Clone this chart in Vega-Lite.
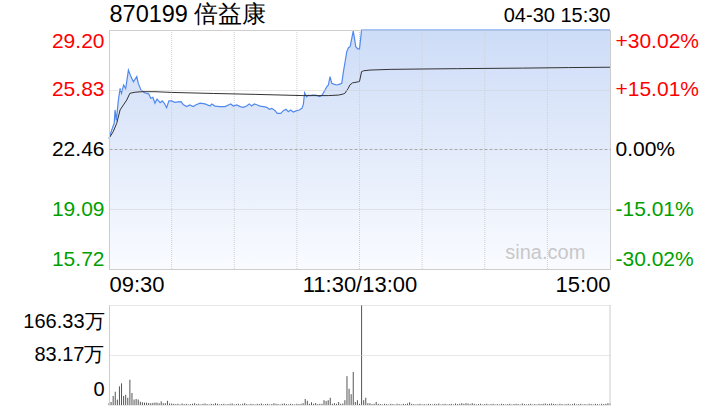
{
  "$schema": "https://vega.github.io/schema/vega-lite/v6.json",
  "width": 501,
  "height": 375,
  "autosize": {"type": "none"},
  "padding": {"left": 109, "top": 30, "right": 110, "bottom": 15},
  "background": "white",
  "config": {
    "view": {"stroke": null},
    "font": "Liberation Sans",
    "axis": {"labelFont": "Liberation Sans", "titleFont": "Liberation Sans"}
  },
  "resolve": {"scale": {"y": "independent"}, "axis": {"x": "independent", "y": "independent"}},
  "datasets": {
    "px": [
      {"m":0,"p":23.09},{"m":1.6,"p":23.66},{"m":2.5,"p":23.94},{"m":2.9,"p":24.69},{"m":3.5,"p":24.10},{"m":4.5,"p":25.25},{"m":5.3,"p":25.91},{"m":6,"p":25.63},{"m":7,"p":26.10},{"m":8,"p":25.90},{"m":9.3,"p":26.94},{"m":10.5,"p":26.57},{"m":11.7,"p":26.28},{"m":13.3,"p":26.57},{"m":14,"p":26.20},{"m":15.3,"p":25.82},{"m":17,"p":25.66},{"m":19,"p":25.60},{"m":20,"p":25.35},{"m":21,"p":25.40},{"m":22,"p":25.07},{"m":23,"p":25.30},{"m":24.5,"p":25.10},{"m":25.5,"p":25.20},{"m":26.5,"p":25.07},{"m":27.6,"p":24.82},{"m":28.7,"p":25.20},{"m":30,"p":25.20},{"m":31.5,"p":25.12},{"m":33,"p":25.15},{"m":34.5,"p":25.16},{"m":35.5,"p":25.00},{"m":37.2,"p":24.88},{"m":38.7,"p":24.97},{"m":40.3,"p":24.88},{"m":41.5,"p":24.97},{"m":43.6,"p":25.07},{"m":46,"p":25.03},{"m":48.4,"p":24.91},{"m":49.2,"p":25.03},{"m":50.8,"p":24.91},{"m":53.2,"p":24.88},{"m":55.6,"p":24.88},{"m":57.2,"p":24.97},{"m":58.3,"p":25.03},{"m":59.6,"p":24.91},{"m":61.2,"p":24.97},{"m":62.8,"p":24.88},{"m":64.3,"p":24.84},{"m":65.9,"p":24.91},{"m":67.2,"p":25.03},{"m":68.3,"p":24.91},{"m":69.6,"p":25.03},{"m":71.1,"p":24.97},{"m":72.4,"p":24.91},{"m":74,"p":24.88},{"m":75.6,"p":24.84},{"m":76.8,"p":24.73},{"m":78,"p":24.78},{"m":79.6,"p":24.65},{"m":80.6,"p":24.50},{"m":82.3,"p":24.50},{"m":83.5,"p":24.65},{"m":84.8,"p":24.73},{"m":85.9,"p":24.59},{"m":87,"p":24.69},{"m":88.3,"p":24.57},{"m":89.9,"p":24.65},{"m":91.2,"p":24.69},{"m":92.4,"p":24.78},{"m":93.1,"p":25.00},{"m":93.7,"p":25.66},{"m":94.7,"p":25.44},{"m":95.5,"p":25.53},{"m":96.3,"p":25.50},{"m":97.4,"p":25.53},{"m":99,"p":25.53},{"m":101,"p":25.44},{"m":102.1,"p":25.53},{"m":103.5,"p":25.82},{"m":104.3,"p":26.00},{"m":105.1,"p":26.10},{"m":105.9,"p":26.57},{"m":106.7,"p":26.19},{"m":108,"p":26.13},{"m":109.1,"p":26.10},{"m":110.2,"p":26.13},{"m":111.5,"p":26.19},{"m":112.3,"p":26.85},{"m":113.1,"p":27.41},{"m":113.9,"p":27.98},{"m":114.7,"p":28.20},{"m":115.5,"p":28.26},{"m":116.3,"p":28.73},{"m":117,"p":29.14},{"m":117.6,"p":28.73},{"m":118.2,"p":28.26},{"m":119.2,"p":28.13},{"m":120,"p":28.13},{"m":121,"p":29.20},{"m":240,"p":29.20}
    ],
    "avg": [
      {"m":0,"a":23.09},{"m":2,"a":23.46},{"m":3.7,"a":23.94},{"m":5.3,"a":24.69},{"m":6.9,"a":24.97},{"m":8.5,"a":25.25},{"m":10,"a":25.63},{"m":12.5,"a":25.69},{"m":15.7,"a":25.72},{"m":22,"a":25.72},{"m":30,"a":25.68},{"m":50,"a":25.62},{"m":70,"a":25.57},{"m":93,"a":25.50},{"m":105,"a":25.50},{"m":110,"a":25.53},{"m":112.2,"a":25.59},{"m":113,"a":25.63},{"m":114.6,"a":25.91},{"m":115.4,"a":26.10},{"m":116.7,"a":26.22},{"m":117.8,"a":26.24},{"m":119.4,"a":26.28},{"m":120,"a":26.30},{"m":121,"a":26.85},{"m":122,"a":26.90},{"m":125,"a":26.94},{"m":135,"a":26.98},{"m":150,"a":27.00},{"m":167,"a":27.02},{"m":198,"a":27.05},{"m":220,"a":27.08},{"m":240,"a":27.10}
    ],
    "vol": [
      {"m":0,"v":3},{"m":1,"v":5},{"m":2,"v":15},{"m":3,"v":22},{"m":4,"v":9},{"m":5,"v":31},{"m":6,"v":36},{"m":7,"v":15},{"m":8,"v":17},{"m":9,"v":12},{"m":10,"v":42},{"m":11,"v":20},{"m":12,"v":9},{"m":13,"v":10},{"m":14,"v":9},{"m":15,"v":5.5},{"m":16,"v":4.5},{"m":17,"v":3.9},{"m":18,"v":4},{"m":19,"v":3.3},{"m":20,"v":3},{"m":21,"v":3.5},{"m":22,"v":4},{"m":23,"v":4},{"m":24,"v":3},{"m":25,"v":6},{"m":26,"v":3},{"m":27,"v":3},{"m":28,"v":7},{"m":29,"v":2.5},{"m":30,"v":2.5},{"m":31,"v":2},
      {"m":32,"v":1.5},{"m":33,"v":2},{"m":34,"v":1},{"m":35,"v":2.5},{"m":36,"v":1.5},{"m":37,"v":2},{"m":38,"v":1},{"m":39,"v":1.5},{"m":40,"v":2},{"m":41,"v":3},{"m":42,"v":1.5},{"m":43,"v":2},{"m":44,"v":1},{"m":45,"v":2},{"m":46,"v":2.5},{"m":47,"v":1.5},{"m":48,"v":1},{"m":49,"v":2},{"m":50,"v":1.5},{"m":51,"v":3},{"m":52,"v":2},{"m":53,"v":1},{"m":54,"v":1.5},{"m":55,"v":2},{"m":56,"v":1},{"m":57,"v":1.5},{"m":58,"v":2},{"m":59,"v":2.5},{"m":60,"v":1},{"m":61,"v":1.5},{"m":62,"v":2},{"m":63,"v":1},{"m":64,"v":2},{"m":65,"v":3},{"m":66,"v":1.5},{"m":67,"v":1},{"m":68,"v":2},{"m":69,"v":1.5},{"m":70,"v":1},{"m":71,"v":2},{"m":72,"v":1.5},{"m":73,"v":2.5},{"m":74,"v":1},{"m":75,"v":1.5},{"m":76,"v":2},{"m":77,"v":1},{"m":78,"v":1.5},{"m":79,"v":3},{"m":80,"v":2},{"m":81,"v":1.5},{"m":82,"v":1},{"m":83,"v":2},{"m":84,"v":2.5},{"m":85,"v":1.5},{"m":86,"v":1},{"m":87,"v":2},{"m":88,"v":1.5},{"m":89,"v":1},{"m":90,"v":2},{"m":91,"v":1.5},{"m":92,"v":2},{"m":93,"v":3},{"m":94,"v":10},{"m":95,"v":7},{"m":96,"v":2},{"m":97,"v":4.5},{"m":98,"v":2},{"m":99,"v":3.3},{"m":100,"v":1.5},{"m":101,"v":2},{"m":102,"v":2},{"m":103,"v":8},{"m":104,"v":6.6},{"m":105,"v":8},{"m":106,"v":12},{"m":107,"v":2},{"m":108,"v":3},{"m":109,"v":2},{"m":110,"v":5},{"m":111,"v":2},{"m":112,"v":2.5},{"m":113,"v":8},{"m":114,"v":48},{"m":115,"v":27},{"m":116,"v":18},{"m":117,"v":55},{"m":118,"v":5},{"m":119,"v":8},{"m":120,"v":2},{"m":121,"v":166.33},{"m":122,"v":8},{"m":123,"v":12},{"m":124,"v":3},{"m":125,"v":3},{"m":126,"v":1.5},{"m":127,"v":2},{"m":128,"v":5},{"m":129,"v":2},
      {"m":130,"v":1.5},{"m":131,"v":1},{"m":132,"v":2},{"m":133,"v":1.5},{"m":134,"v":1},{"m":135,"v":2},{"m":136,"v":1.5},{"m":137,"v":1},{"m":138,"v":2},{"m":139,"v":1.5},{"m":140,"v":1},{"m":141,"v":2},{"m":142,"v":1.5},{"m":143,"v":2.5},{"m":144,"v":4.5},{"m":145,"v":2},{"m":146,"v":1.5},{"m":147,"v":1},{"m":148,"v":1.5},{"m":149,"v":2},{"m":150,"v":1},{"m":151,"v":1.5},{"m":152,"v":1},{"m":153,"v":2},{"m":154,"v":1.5},{"m":155,"v":1},{"m":156,"v":2},{"m":157,"v":1.5},{"m":158,"v":2.5},{"m":159,"v":1},{"m":160,"v":1.5},{"m":161,"v":2},{"m":162,"v":1},{"m":163,"v":1.5},{"m":164,"v":2},{"m":165,"v":1},{"m":166,"v":2.5},{"m":167,"v":1.5},{"m":168,"v":2},{"m":169,"v":3},{"m":170,"v":2},{"m":171,"v":3},{"m":172,"v":2.5},{"m":173,"v":1.5},{"m":174,"v":3},{"m":175,"v":2},{"m":176,"v":1},{"m":177,"v":1.5},{"m":178,"v":2},{"m":179,"v":1},{"m":180,"v":1.5},{"m":181,"v":2},{"m":182,"v":1},{"m":183,"v":1.5},{"m":184,"v":2},{"m":185,"v":1},{"m":186,"v":1.5},{"m":187,"v":1},{"m":188,"v":2},{"m":189,"v":1.5},{"m":190,"v":1},{"m":191,"v":1.5},{"m":192,"v":2},{"m":193,"v":1},{"m":194,"v":1.5},{"m":195,"v":2},{"m":196,"v":1.5},{"m":197,"v":1},{"m":198,"v":2.5},{"m":199,"v":1.5},{"m":200,"v":1},{"m":201,"v":1.5},{"m":202,"v":2},{"m":203,"v":1},{"m":204,"v":1.5},{"m":205,"v":1},{"m":206,"v":2},{"m":207,"v":1.5},{"m":208,"v":2},{"m":209,"v":2.5},{"m":210,"v":1.5},{"m":211,"v":2},{"m":212,"v":2.5},{"m":213,"v":2},{"m":214,"v":1.5},{"m":215,"v":1},{"m":216,"v":2},{"m":217,"v":1.5},{"m":218,"v":1},{"m":219,"v":1.5},{"m":220,"v":2},{"m":221,"v":1},{"m":222,"v":1.5},{"m":223,"v":2.5},{"m":224,"v":1},{"m":225,"v":1.5},{"m":226,"v":2},{"m":227,"v":1},{"m":228,"v":1.5},{"m":229,"v":1},{"m":230,"v":2},{"m":231,"v":1.5},{"m":232,"v":1},{"m":233,"v":2},{"m":234,"v":1.5},{"m":235,"v":1},{"m":236,"v":2},{"m":237,"v":1.5},{"m":238,"v":2},{"m":239,"v":3},{"m":240,"v":2.5}
    ],
    "grid": [{"g":30},{"g":60},{"g":90},{"g":120},{"g":150},{"g":180},{"g":210}],
    "wm": [{"m":209,"p":16.62,"t":"sina.com"}],
    "edge": [{"m":240,"lo":0,"hi":166.33}]
  },
  "layer": [
    {
      "data": {"name": "px"},
      "mark": {"type": "area", "line": false, "color": {"x1": 0, "y1": 0, "x2": 0, "y2": 1, "gradient": "linear", "stops": [{"offset": 0, "color": "#cddcf7"}, {"offset": 1, "color": "#f9fbff"}]}},
      "encoding": {
        "x": {"field": "m", "type": "quantitative", "scale": {"domain": [0, 240], "nice": false, "zero": false},
          "axis": {"orient": "bottom", "offset": -136, "values": [0, 120, 240], "labelExpr": "datum.value == 0 ? '09:30' : datum.value == 120 ? '11:30/13:00' : '15:00'", "labelFlush": true, "ticks": false, "grid": false, "domain": true, "domainColor": "#cccccc", "labelFontSize": 22, "labelPadding": 5, "labelColor": "#000000", "title": null}},
        "y": {"field": "p", "type": "quantitative", "scale": {"domain": [15.72, 29.2], "range": [239, 0], "nice": false, "zero": false},
          "axis": {"orient": "left", "values": [15.72, 19.09, 22.46, 25.83, 29.2], "format": ".2f", "labelFlush": true, "ticks": false, "grid": true,
            "gridColor": {"condition": {"test": "datum.value > 22.4 && datum.value < 22.5", "value": "#a8a8a8"}, "value": "#d0d0d0"},
            "gridDash": {"condition": {"test": "datum.value > 22.4 && datum.value < 22.5", "value": [3, 2]}, "value": [1, 1]},
            "domain": true, "domainColor": "#cccccc", "labelFontSize": 21, "labelPadding": 5, "zindex": 1, "title": null,
            "labelColor": {"condition": [{"test": "datum.value > 22.5", "value": "#ff0000"}, {"test": "datum.value < 22.4", "value": "#00a000"}], "value": "#000000"}}},
        "y2": {"datum": 15.72}
      }
    },
    {
      "data": {"name": "grid"},
      "mark": {"type": "rule", "color": "#d0d0d0", "strokeDash": [1, 1], "strokeWidth": 1},
      "encoding": {
        "x": {"field": "g", "type": "quantitative", "scale": {"domain": [0, 240], "nice": false, "zero": false}, "axis": null},
        "y": {"datum": 15.72, "type": "quantitative", "scale": {"domain": [15.72, 29.2], "range": [239, 0], "nice": false, "zero": false}, "axis": null},
        "y2": {"datum": 29.2}
      }
    },
    {
      "data": {"name": "px"},
      "mark": {"type": "line", "color": "#5089ee", "strokeWidth": 1.2},
      "encoding": {
        "x": {"field": "m", "type": "quantitative", "scale": {"domain": [0, 240], "nice": false, "zero": false},
          "axis": {"orient": "top", "labels": false, "ticks": false, "grid": false, "domain": true, "domainColor": "#cccccc", "title": "870199 倍益康", "titleAnchor": "start", "titleAlign": "left", "titleFontSize": 23.5, "titleFontWeight": "normal", "titleColor": "#000000", "titlePadding": 4}},
        "y": {"field": "p", "type": "quantitative", "scale": {"domain": [15.72, 29.2], "range": [239, 0], "nice": false, "zero": false}, "axis": null}
      }
    },
    {
      "data": {"name": "avg"},
      "mark": {"type": "line", "color": "#333333", "strokeWidth": 1},
      "encoding": {
        "x": {"field": "m", "type": "quantitative", "scale": {"domain": [0, 240], "nice": false, "zero": false},
          "axis": {"orient": "top", "labels": false, "ticks": false, "grid": false, "domain": false, "title": "04-30 15:30", "titleAnchor": "end", "titleAlign": "right", "titleFontSize": 20, "titleFontWeight": "normal", "titleColor": "#000000", "titlePadding": 5}},
        "y": {"field": "a", "type": "quantitative", "scale": {"domain": [15.72, 29.2], "range": [239, 0], "nice": false, "zero": false},
          "axis": {"orient": "right", "values": [15.72, 19.09, 22.46, 25.83, 29.2], "labelExpr": "datum.value > 29 ? '+30.02%' : datum.value > 25 ? '+15.01%' : datum.value > 22 ? '0.00%' : datum.value > 18 ? '-15.01%' : '-30.02%'", "labelFlush": true, "ticks": false, "grid": false, "domain": true, "domainColor": "#cccccc", "labelFontSize": 21, "labelPadding": 5, "title": null,
            "labelColor": {"condition": [{"test": "datum.value > 22.5", "value": "#ff0000"}, {"test": "datum.value < 22.4", "value": "#00a000"}], "value": "#000000"}}}
      }
    },
    {
      "data": {"name": "vol"},
      "mark": {"type": "rule", "color": "#555555", "strokeWidth": 1},
      "encoding": {
        "x": {"field": "m", "type": "quantitative", "scale": {"domain": [0, 240], "nice": false, "zero": false}, "axis": null},
        "y": {"field": "v", "type": "quantitative", "scale": {"domain": [0, 166.33], "range": [375, 275], "nice": false, "zero": false},
          "axis": {"orient": "left", "values": [0, 83.17, 166.33], "labelExpr": "datum.value == 0 ? '0' : format(datum.value, '.2f') + '万'", "labelFlush": true, "labelFlushOffset": -6, "ticks": false, "grid": true, "gridColor": "#d0d0d0", "gridDash": [1, 1], "domain": true, "domainColor": "#cccccc", "labelFontSize": 20, "labelPadding": 5, "labelColor": "#000000", "zindex": 1, "title": null}},
        "y2": {"datum": 0}
      }
    },
    {
      "data": {"name": "edge"},
      "mark": {"type": "rule", "color": "#cccccc", "strokeWidth": 1},
      "encoding": {
        "x": {"field": "m", "type": "quantitative", "scale": {"domain": [0, 240], "nice": false, "zero": false}, "axis": null},
        "y": {"field": "lo", "type": "quantitative", "scale": {"domain": [0, 166.33], "range": [375, 275], "nice": false, "zero": false}, "axis": null},
        "y2": {"field": "hi"}
      }
    },
    {
      "data": {"name": "wm"},
      "mark": {"type": "text", "color": "#c8c8c8", "fontSize": 20, "font": "Liberation Sans"},
      "encoding": {
        "x": {"field": "m", "type": "quantitative", "scale": {"domain": [0, 240], "nice": false, "zero": false}, "axis": null},
        "y": {"field": "p", "type": "quantitative", "scale": {"domain": [15.72, 29.2], "range": [239, 0], "nice": false, "zero": false}, "axis": null},
        "text": {"field": "t"}
      }
    }
  ]
}
